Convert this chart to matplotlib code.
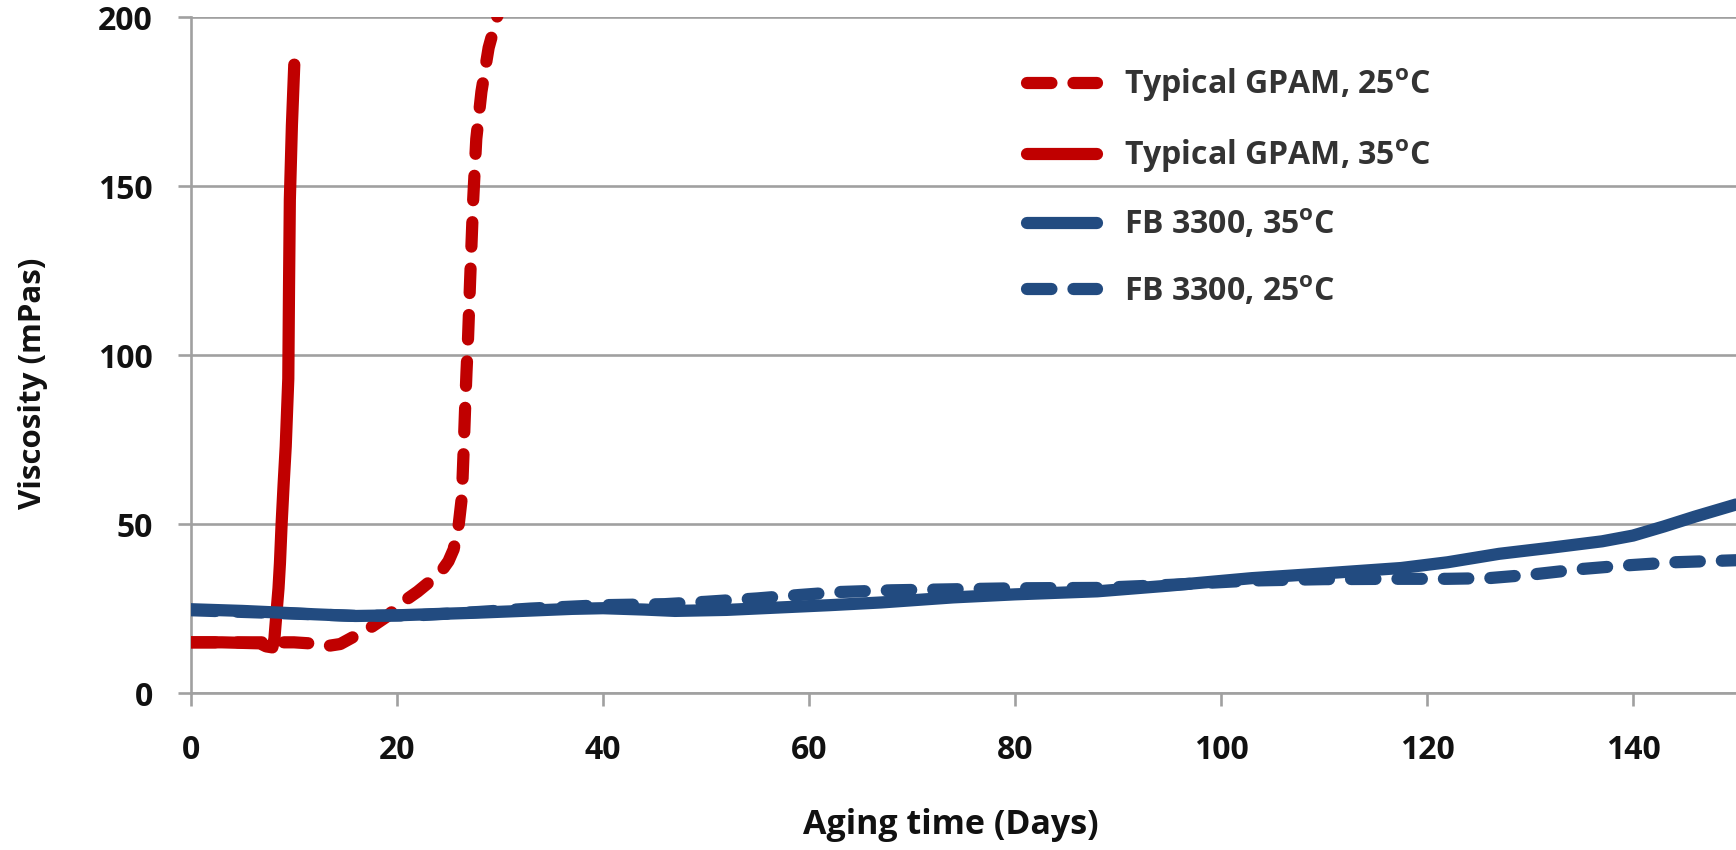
import matplotlib
matplotlib.use("Agg")
import matplotlib.pyplot as plt

plt.rcParams['font.family'] = ['Open Sans', 'DejaVu Sans']
plt.rcParams['mathtext.fontset'] = 'custom'
plt.rcParams['mathtext.rm'] = 'Open Sans'
plt.rcParams['mathtext.bf'] = 'Open Sans:bold'
plt.rcParams['mathtext.it'] = 'Open Sans:italic'

# ---- data ----
gpam25_x = [0, 5, 10, 11.5, 13, 14.5, 16, 17.5, 19, 20.6, 22, 23, 24.3, 25.0, 25.5, 26.0,
            26.3, 26.45, 26.6, 26.75, 26.9, 27.1, 27.4, 27.7, 28.2, 28.9, 29.8]
gpam25_y = [15, 15, 15, 14.7, 13.8, 14.5, 17, 19.5, 22.6, 27, 30, 32.5, 36, 39, 42.5, 50,
            58, 70, 83, 95, 105, 122, 146, 164, 178, 191, 201]

gpam35_x = [0, 3, 6.7, 7.3, 7.9, 8.1, 8.3, 8.5, 8.64, 8.8, 9.0, 9.2, 9.45, 9.52, 9.6, 9.8, 10.03]
gpam35_y = [15, 15, 14.7, 13.8, 13.5, 16, 23.6, 31, 38.5, 50, 62, 73, 93, 120, 146, 168, 186]

fb35_x = [0, 5, 8.6, 12, 16, 20, 23, 28, 33, 37, 40, 44, 47, 52, 57, 62, 67, 74, 80,
          88, 95, 103, 110, 117.5, 122, 127, 132, 137, 140, 143, 146, 150]
fb35_y = [24.8, 24.3, 23.8, 23.3, 22.8, 23.0, 23.3, 23.8, 24.4, 24.9, 25.1, 24.7, 24.3,
          24.6, 25.3, 26.0, 26.8, 28.3, 29.2, 30.1, 31.8, 34.0, 35.4, 37.0, 38.7, 41.2,
          43.0, 44.9, 46.6, 49.3, 52.2, 55.8]

fb25_x = [0, 10, 16, 22, 28, 33, 40, 46, 50, 55, 59, 63, 68, 72, 80, 88, 95, 103,
          110, 117, 122, 126, 130, 135, 139, 144, 150]
fb25_y = [24.5, 23.5, 22.8, 23.0, 24.0, 25.0, 26.0, 26.3, 27.0, 28.0, 29.0, 29.9,
          30.4, 30.6, 31.0, 31.1, 32.0, 33.3, 33.7, 33.8, 33.8, 34.0, 35.0, 36.7,
          37.7, 38.7, 39.3]

labels = [r'Typical GPAM, 25$^{\mathbf{o}}$C',
          r'Typical GPAM, 35$^{\mathbf{o}}$C',
          r'FB 3300, 35$^{\mathbf{o}}$C',
          r'FB 3300, 25$^{\mathbf{o}}$C']

x_ticks = [0, 20, 40, 60, 80, 100, 120, 140]
y_ticks = [0, 50, 100, 150, 200]

RED = '#C00000'
BLUE = '#224B80'
GRID = '#A0A0A0'
LW = 8.8
DASH = (0, (2.0, 1.8))

fig = plt.figure(figsize=(17.36, 8.5), dpi=100)
ax = fig.add_axes([0.1100, 0.1847, 0.8900, 0.7949])

common = dict(lw=LW, solid_capstyle='round', dash_capstyle='round', solid_joinstyle='round')
ax.plot(gpam25_x, gpam25_y, color=RED, ls=DASH, label=labels[0], zorder=3, **common)
ax.plot(gpam35_x, gpam35_y, color=RED, ls='-', label=labels[1], zorder=4, **common)
ax.plot(fb35_x, fb35_y, color=BLUE, ls='-', label=labels[2], zorder=5, **common)
ax.plot(fb25_x, fb25_y, color=BLUE, ls=DASH, label=labels[3], zorder=6, **common)

ax.set_xlim(0, 150)
ax.set_ylim(0, 200)
ax.set_xticks(x_ticks)
ax.set_yticks(y_ticks)
ax.yaxis.grid(True, color=GRID, lw=1.9)
ax.set_axisbelow(True)
for s in ['top', 'right']:
    ax.spines[s].set_visible(False)
for s in ['left', 'bottom']:
    ax.spines[s].set_color(GRID)
    ax.spines[s].set_linewidth(1.9)
ax.tick_params(axis='both', direction='out', length=9.4, width=1.9, color=GRID,
               labelsize=23, labelcolor='#111111')
ax.tick_params(axis='y', pad=18)
ax.tick_params(axis='x', pad=20)
for t in ax.get_xticklabels() + ax.get_yticklabels():
    t.set_fontweight('bold')

fig.text(951 / 1736, 1 - 825 / 850, 'Aging time (Days)', ha='center', va='center',
         fontsize=24.5, fontweight='bold', color='#111111')
fig.text(33 / 1736, 1 - 383 / 850, 'Viscosity (mPas)', ha='center', va='center',
         rotation=90, fontsize=22.5, fontweight='bold', color='#111111')

leg = ax.legend(loc='upper left', bbox_to_anchor=(1027 / 1736, 0.921),
                bbox_transform=fig.transFigure, frameon=False, borderpad=0,
                borderaxespad=0, handlelength=2.2, handletextpad=0.85,
                labelspacing=1.05, prop={'size': 23, 'weight': 'bold'})
for t in leg.get_texts():
    t.set_color('#333333')

fig.savefig('out.png', dpi=100)
